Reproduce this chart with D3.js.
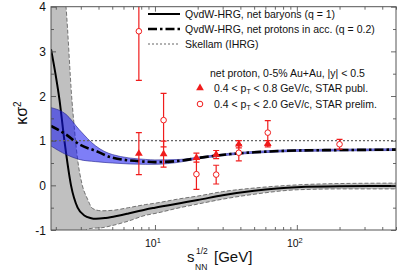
<!DOCTYPE html>
<html>
<head>
<meta charset="utf-8">
<script src="https://cdn.jsdelivr.net/npm/d3@7"></script>
<style>
body{margin:0;background:#fff}
svg{display:block;font-family:Arial,"Liberation Sans",sans-serif}
</style>
</head>
<body>
<script>
// QvdW-HRG net baryons (q = 1): central curve
const baryonE = [1.85, 2.0, 2.12, 2.3, 2.56, 2.85, 3.2, 3.5, 3.84, 4.5, 5.5, 6.5, 8.6, 10, 15, 20, 30, 50, 100, 200, 500];
const baryonK = [3.05, 2.45, 1.93, 1.0, 0.0, -0.5, -0.68, -0.73, -0.75, -0.73, -0.68, -0.63, -0.54, -0.5, -0.4, -0.33, -0.22, -0.12, -0.04, -0.02, -0.015];
// its gray band
const bandE = [1.85, 2.36, 2.6, 2.7, 2.85, 3.05, 3.35, 3.64, 4.2, 5, 6.5, 8.6, 10, 15, 20, 30, 50, 100, 200, 500];
const bandHi = [6, 4.0, 1.9, 1.3, 0.58, 0.05, -0.31, -0.52, -0.57, -0.56, -0.5, -0.43, -0.4, -0.3, -0.24, -0.14, -0.06, 0.01, 0.04, 0.05];
const bandLo = [-1.5, -1.5, -1.5, -1.5, -1.5, -1.15, -0.98, -0.96, -0.95, -0.9, -0.8, -0.67, -0.63, -0.5, -0.42, -0.31, -0.2, -0.1, -0.08, -0.08];
// QvdW-HRG net protons in acceptance (q = 0.2) with blue band
const protonE = [1.85, 2.36, 2.92, 3.83, 5.0, 8.6, 10, 15, 21, 34, 50, 100, 200, 500];
const protonK = [1.33, 1.14, 0.92, 0.77, 0.62, 0.53, 0.52, 0.55, 0.62, 0.7, 0.74, 0.78, 0.79, 0.8];
const protonHi = [1.74, 1.59, 1.25, 0.88, 0.69, 0.58, 0.57, 0.58, 0.64, 0.72, 0.76, 0.8, 0.81, 0.82];
const protonLo = [0.88, 0.69, 0.58, 0.53, 0.5, 0.47, 0.47, 0.52, 0.6, 0.68, 0.72, 0.76, 0.77, 0.78];
// Skellam
const skellam = 1;
// STAR published (0.4 < pT < 0.8)
const publE = [7.7, 11.5, 19.6, 27, 39, 62.4];
const publK = [0.71, 0.70, 0.62, 0.69, 0.92, 0.93];
const publErr = [0.47, 0.29, 0.1, 0.09, 0.08, 0.07];
// STAR preliminary (0.4 < pT < 2.0)
const prelE = [7.7, 11.5, 19.6, 27, 39, 62.4, 200];
const prelK = [3.45, 1.46, 0.25, 0.24, 0.73, 1.18, 0.92];
const prelErr = [1.1, 0.6, 0.34, 0.21, 0.18, 0.27, 0.11];
// ticks
const xMajor = [10, 100];
const xMinor = [2, 3, 4, 5, 6, 7, 8, 9, 20, 30, 40, 50, 60, 70, 80, 90, 200, 300, 400, 500];
const yMajor = [-1, 0, 1, 2, 3, 4];
const yMinor = [-0.5, 0.5, 1.5, 2.5, 3.5];

const W = 407, H = 271;
const L = 51, R = 396, T = 6.7, B = 230;
const red = "#f01c1c";

const svg = d3.select("body").append("svg").attr("width", W).attr("height", H);
const x = d3.scaleLog().domain([1.85, 500]).range([L, R]);
const y = d3.scaleLinear().domain([-1, 4]).range([B, T]);

svg.append("clipPath").attr("id", "clip").append("rect")
  .attr("x", L).attr("y", T).attr("width", R - L).attr("height", B - T);
const plot = svg.append("g").attr("clip-path", "url(#clip)");

const curve = d3.curveMonotoneX;
const zip = (a, b) => a.map((v, i) => [v, b[i]]);

// gray band
const gBand = bandE.map((e, i) => ({e: e, lo: bandLo[i], hi: bandHi[i]}));
plot.append("path").datum(gBand)
  .attr("d", d3.area().x(d => x(d.e)).y0(d => y(d.lo)).y1(d => y(d.hi)).curve(curve))
  .attr("fill", "#c0c0c0");
["hi", "lo"].forEach(k => {
  plot.append("path").datum(gBand)
    .attr("d", d3.line().x(d => x(d.e)).y(d => y(d[k])).curve(curve))
    .attr("fill", "none").attr("stroke", "#555").attr("stroke-width", 0.8)
    .attr("stroke-dasharray", "4,2");
});

// solid curve
plot.append("path").datum(zip(baryonE, baryonK))
  .attr("d", d3.line().x(d => x(d[0])).y(d => y(d[1])).curve(curve))
  .attr("fill", "none").attr("stroke", "#000").attr("stroke-width", 2);

// blue band
const bBand = protonE.map((e, i) => ({e: e, lo: protonLo[i], hi: protonHi[i]}));
plot.append("path").datum(bBand)
  .attr("d", d3.area().x(d => x(d.e)).y0(d => y(d.lo)).y1(d => y(d.hi)).curve(curve))
  .attr("fill", "rgb(20,20,240)").attr("fill-opacity", 0.55);
["hi", "lo"].forEach(k => {
  plot.append("path").datum(bBand)
    .attr("d", d3.line().x(d => x(d.e)).y(d => y(d[k])).curve(curve))
    .attr("fill", "none").attr("stroke", "#22228a").attr("stroke-width", 0.6);
});

// skellam
plot.append("line").attr("x1", L).attr("x2", R).attr("y1", y(skellam)).attr("y2", y(skellam))
  .attr("stroke", "#666").attr("stroke-width", 1.2).attr("stroke-dasharray", "2,2");

// dash-dot curve
plot.append("path").datum(zip(protonE, protonK))
  .attr("d", d3.line().x(d => x(d[0])).y(d => y(d[1])).curve(curve))
  .attr("fill", "none").attr("stroke", "#000").attr("stroke-width", 2.6)
  .attr("stroke-dasharray", "9,3,2.5,3");

// error bars
function errBars(E, K, Er) {
  E.forEach((e, i) => {
    const g = plot.append("g").attr("stroke", red).attr("stroke-width", 1.2);
    const cx = x(e), y1 = y(K[i] + Er[i]), y2 = y(K[i] - Er[i]);
    g.append("line").attr("x1", cx).attr("x2", cx).attr("y1", y1).attr("y2", y2);
    g.append("line").attr("x1", cx - 3).attr("x2", cx + 3).attr("y1", y1).attr("y2", y1);
    g.append("line").attr("x1", cx - 3).attr("x2", cx + 3).attr("y1", y2).attr("y2", y2);
  });
}
errBars(prelE, prelK, prelErr);
errBars(publE, publK, publErr);

const tri = d3.symbol().type(d3.symbolTriangle).size(26);
function triangle(g, cx, cy) {
  g.append("path").attr("d", tri).attr("transform", `translate(${cx},${cy})`).attr("fill", red);
}
function circle(g, cx, cy) {
  g.append("circle").attr("cx", cx).attr("cy", cy).attr("r", 2.8)
    .attr("fill", "#fff").attr("stroke", red).attr("stroke-width", 1);
}
publE.forEach((e, i) => triangle(plot, x(e), y(publK[i])));
prelE.forEach((e, i) => circle(plot, x(e), y(prelK[i])));

// axes
const axG = svg.append("g").attr("font-size", 12).attr("fill", "#222");
function ticks(axis, pos, vals, size) {
  const a = axis(pos === "x" ? x : y).tickValues(vals).tickSize(size).tickFormat("");
  return a;
}
const xb = svg.append("g").attr("transform", `translate(0,${B})`);
xb.call(d3.axisBottom(x).tickValues(xMinor).tickSizeInner(-3).tickSizeOuter(0).tickFormat(""));
xb.call(g => g.append("g").call(d3.axisBottom(x).tickValues(xMajor).tickSizeInner(-5).tickSizeOuter(0).tickFormat("")));
const xt = svg.append("g").attr("transform", `translate(0,${T})`);
xt.call(d3.axisTop(x).tickValues(xMinor).tickSizeInner(-3).tickSizeOuter(0).tickFormat(""));
xt.call(g => g.append("g").call(d3.axisTop(x).tickValues(xMajor).tickSizeInner(-5).tickSizeOuter(0).tickFormat("")));
const yl = svg.append("g").attr("transform", `translate(${L},0)`);
yl.call(d3.axisLeft(y).tickValues(yMinor).tickSizeInner(-3).tickSizeOuter(0).tickFormat(""));
yl.call(g => g.append("g").call(d3.axisLeft(y).tickValues(yMajor).tickSizeInner(-5).tickSizeOuter(0).tickFormat("")));
const yr = svg.append("g").attr("transform", `translate(${R},0)`);
yr.call(d3.axisRight(y).tickValues(yMinor).tickSizeInner(-3).tickSizeOuter(0).tickFormat(""));
yr.call(g => g.append("g").call(d3.axisRight(y).tickValues(yMajor).tickSizeInner(-5).tickSizeOuter(0).tickFormat("")));
svg.selectAll(".domain").remove();
svg.selectAll(".tick line").attr("stroke", "#444").attr("stroke-width", 0.8);

svg.append("rect").attr("x", L).attr("y", T).attr("width", R - L).attr("height", B - T)
  .attr("fill", "none").attr("stroke", "#555").attr("stroke-width", 1);

// tick labels
yMajor.forEach(v => {
  svg.append("text").attr("x", 46).attr("y", y(v) + 4.5).attr("text-anchor", "end")
    .attr("font-size", 12).attr("fill", "#111").text(v);
});
xMajor.forEach(v => {
  const t = svg.append("text").attr("x", x(v) - 2).attr("y", 247).attr("text-anchor", "middle")
    .attr("font-size", 10.5).attr("fill", "#111");
  t.append("tspan").text("10");
  t.append("tspan").attr("dy", -4.5).attr("font-size", 7.5).text(Math.round(Math.log10(v)));
});

// axis titles
const yt = svg.append("text").attr("transform", "translate(27,113) rotate(-90)")
  .attr("text-anchor", "middle").attr("font-size", 16).attr("fill", "#111");
yt.append("tspan").text("κσ");
yt.append("tspan").attr("dy", -6).attr("font-size", 10).text("2");

svg.append("text").attr("x", 187).attr("y", 262).attr("font-size", 15).attr("fill", "#111").text("s");
svg.append("text").attr("x", 196).attr("y", 254).attr("font-size", 8.5).attr("fill", "#111").text("1/2");
svg.append("text").attr("x", 195).attr("y", 270).attr("font-size", 8.5).attr("fill", "#111").text("NN");
svg.append("text").attr("x", 214).attr("y", 262).attr("font-size", 15).attr("fill", "#111").text("[GeV]");

// legend
const lg = svg.append("g").attr("font-size", 10.5).attr("fill", "#111");
const rows1 = [
  {t: "QvdW-HRG, net baryons (q = 1)", w: 2, d: null, c: "#000"},
  {t: "QvdW-HRG, net protons in acc. (q = 0.2)", w: 2.6, d: "9,3,2.5,3", c: "#000"},
  {t: "Skellam (IHRG)", w: 1.2, d: "2,2", c: "#666"}
];
rows1.forEach((r, i) => {
  const yy = 14 + i * 15;
  lg.append("line").attr("x1", 148).attr("x2", 180).attr("y1", yy).attr("y2", yy)
    .attr("stroke", r.c).attr("stroke-width", r.w).attr("stroke-dasharray", r.d);
  lg.append("text").attr("x", 185).attr("y", yy + 3.8).text(r.t);
});
lg.append("text").attr("x", 210).attr("y", 77).text("net proton, 0-5% Au+Au, |y| < 0.5");
[0, 1].forEach(i => {
  const yy = 88 + i * 16;
  if (i === 0) triangle(lg, 200, yy); else circle(lg, 200, yy);
  const t = lg.append("text").attr("x", 214).attr("y", yy + 3.8);
  t.append("tspan").text("0.4 < p");
  t.append("tspan").attr("dy", 2.5).attr("font-size", 7).text("T");
  t.append("tspan").attr("dy", -2.5).text(i === 0 ? " < 0.8 GeV/c, STAR publ." : " < 2.0 GeV/c, STAR prelim.");
});
</script>
</body>
</html>
